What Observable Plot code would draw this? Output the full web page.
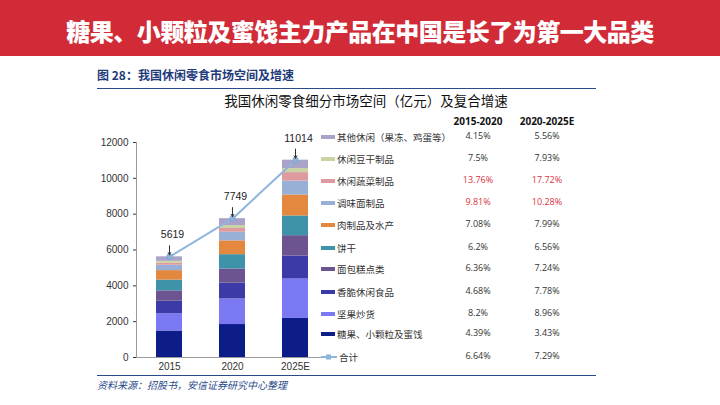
<!DOCTYPE html>
<html><head><meta charset="utf-8">
<script src="https://cdn.jsdelivr.net/npm/d3@7"></script>
<script src="https://cdn.jsdelivr.net/npm/@observablehq/plot@0.6"></script>
<style>
html,body{margin:0;padding:0;background:#fff;}
#page{position:relative;width:720px;height:405px;overflow:hidden;background:#fff;font-family:"Noto Sans CJK SC","Liberation Sans",sans-serif;}
#banner{position:absolute;left:0;top:0;width:720px;height:56px;background:#d22b38;color:#fff;font-weight:900;font-size:24px;text-align:center;line-height:62px;letter-spacing:-0.5px;}
#fig{position:absolute;left:97px;top:66px;font-size:12px;color:#1f3b7a;font-weight:bold;}
.hr{position:absolute;left:97px;width:499px;height:0;border-top:1.5px solid #2a4a8a;}
#ctitle{position:absolute;left:0;width:732px;top:90px;text-align:center;font-size:13.5px;color:#111;}
#chart{position:absolute;left:0;top:110px;}
.leg{position:absolute;left:321px;font-size:9.5px;color:#333;white-space:nowrap;line-height:12px;}
.sw{display:inline-block;width:14px;height:4px;vertical-align:middle;margin-right:2px;margin-top:-2px;}
.th{position:absolute;font-family:"Open Sans","Liberation Sans",sans-serif;font-weight:bold;font-size:10px;color:#111;transform:translateX(-50%);}
.td{position:absolute;font-family:"Open Sans","Liberation Sans",sans-serif;font-size:9px;color:#333;transform:translateX(-50%);}
#src{position:absolute;left:97px;top:377px;font-size:10px;color:#2a4a8a;font-style:italic;}
</style></head>
<body><div id="page">
<div id="banner">糖果、小颗粒及蜜饯主力产品在中国是长了为第一大品类</div>
<div id="fig">图 28：我国休闲零食市场空间及增速</div>
<div class="hr" style="top:88px"></div>
<div id="ctitle">我国休闲零食细分市场空间（亿元）及复合增速</div>
<div id="chart"></div>
<div class="hr" style="top:375px"></div>
<div id="src">资料来源：招股书，安信证券研究中心整理</div>
</div>
<script>
// ---- data ----
const years = ["2015", "2020", "2025E"];
const categories = ["糖果、小颗粒及蜜饯", "坚果炒货", "香脆休闲食品", "面包糕点类", "饼干", "肉制品及水产", "调味面制品", "休闲蔬菜制品", "休闲豆干制品", "其他休闲（果冻、鸡蛋等）"];
const values2015 = [1480, 960, 700, 580, 600, 530, 300, 110, 110, 249];
const values2020 = [1840, 1430, 880, 790, 800, 770, 480, 210, 160, 389];
const values2025 = [2180, 2200, 1280, 1140, 1100, 1170, 780, 470, 230, 464];
const totals = [5619, 7749, 11014];
const totalLabel = "合计";
const cagr2015_2020 = ["4.39%", "8.2%", "4.68%", "6.36%", "6.2%", "7.08%", "9.81%", "13.76%", "7.5%", "4.15%"];
const cagr2020_2025 = ["3.43%", "8.96%", "7.78%", "7.24%", "6.56%", "7.99%", "10.28%", "17.72%", "7.93%", "5.56%"];
const cagrTotal = ["6.64%", "7.29%"];
const highlighted = ["调味面制品", "休闲蔬菜制品"];
const periodHeaders = ["2015-2020", "2020-2025E"];
const yTicks = [0, 2000, 4000, 6000, 8000, 10000, 12000];

// ---- styles ----
const palette = ["#0c1d8a", "#7a78f2", "#3b3aa6", "#6b548f", "#3f93a9", "#e4873f", "#98afd6", "#de9a9e", "#c9d3a3", "#a9a3c9"];
const lineColor = "#8fb5dc";

const seriesByYear = [values2015, values2020, values2025];
const rows = categories.flatMap((c, i) => years.map((y, j) => ({year: y, category: c, value: seriesByYear[j][i]})));
const totalRows = years.map((y, j) => ({year: y, total: totals[j]}));

const chart = Plot.plot({
  width: 340, height: 270,
  marginLeft: 136, marginRight: 12, marginTop: 32, marginBottom: 23,
  style: {fontFamily: "'Liberation Sans', Arial, sans-serif", fontSize: "10px", color: "#333", background: "transparent"},
  x: {domain: years, paddingInner: 0.594, paddingOuter: 0.3, label: null, tickSize: 0, tickPadding: 5},
  y: {domain: [0, 12000], ticks: yTicks, label: null, tickSize: 3, tickPadding: 5, tickFormat: d => String(d)},
  color: {domain: categories, range: palette},
  marks: [
    Plot.barY(rows, {x: "year", y: "value", fill: "category", order: categories}),
    Plot.frame({anchor: "left", stroke: "#9a9a9a"}),
    Plot.ruleY([0], {stroke: "#9a9a9a"}),
    Plot.lineY(totalRows, {x: "year", y: "total", stroke: lineColor, strokeWidth: 2}),
    Plot.dot(totalRows, {x: "year", y: "total", symbol: "square", r: 2.6, fill: lineColor, stroke: "#7aa3cf", strokeWidth: 0.8}),
    Plot.arrow(totalRows, {x1: "year", x2: "year", y1: d => d.total + 620, y2: d => d.total, stroke: "#333", strokeWidth: 1, headLength: 4, insetEnd: 2}),
    Plot.text(totalRows, {x: "year", y: "total", text: d => String(d.total), dy: -22, dx: 3, fontSize: 10.5, fill: "#222"})
  ]
});
document.getElementById("chart").appendChild(chart);

// legend + table (legend order: top category first)
const page = document.getElementById("page");
const rowTops = [131, 153, 175, 197, 219, 242, 263, 286, 308, 328, 351];
const order = categories.map((c, i) => i).reverse();
order.forEach((ci, k) => {
  const d = document.createElement("div");
  d.className = "leg";
  d.style.top = rowTops[k] + "px";
  d.innerHTML = `<span class="sw" style="background:${palette[ci]}"></span>${categories[ci]}`;
  page.appendChild(d);
  [cagr2015_2020[ci], cagr2020_2025[ci]].forEach((v, p) => {
    const t = document.createElement("div");
    t.className = "td";
    t.style.left = (p === 0 ? 478 : 547) + "px";
    t.style.top = (rowTops[k] - 2) + "px";
    if (highlighted.includes(categories[ci])) t.style.color = "#d9343f";
    t.textContent = v;
    page.appendChild(t);
  });
});
{
  const k = categories.length;
  const d = document.createElement("div");
  d.className = "leg";
  d.style.top = rowTops[k] + "px";
  d.innerHTML = `<svg width="16" height="8" style="vertical-align:middle;margin-right:2px;margin-top:-2px"><line x1="0" y1="4" x2="16" y2="4" stroke="${lineColor}" stroke-width="2"/><rect x="5" y="1.5" width="5" height="5" fill="${lineColor}"/></svg>${totalLabel}`;
  page.appendChild(d);
  cagrTotal.forEach((v, p) => {
    const t = document.createElement("div");
    t.className = "td";
    t.style.left = (p === 0 ? 478 : 547) + "px";
    t.style.top = (rowTops[k] - 2) + "px";
    t.textContent = v;
    page.appendChild(t);
  });
}
periodHeaders.forEach((h, p) => {
  const t = document.createElement("div");
  t.className = "th";
  t.style.left = (p === 0 ? 478 : 547) + "px";
  t.style.top = "114px";
  t.textContent = h;
  page.appendChild(t);
});
</script>
</body></html>
